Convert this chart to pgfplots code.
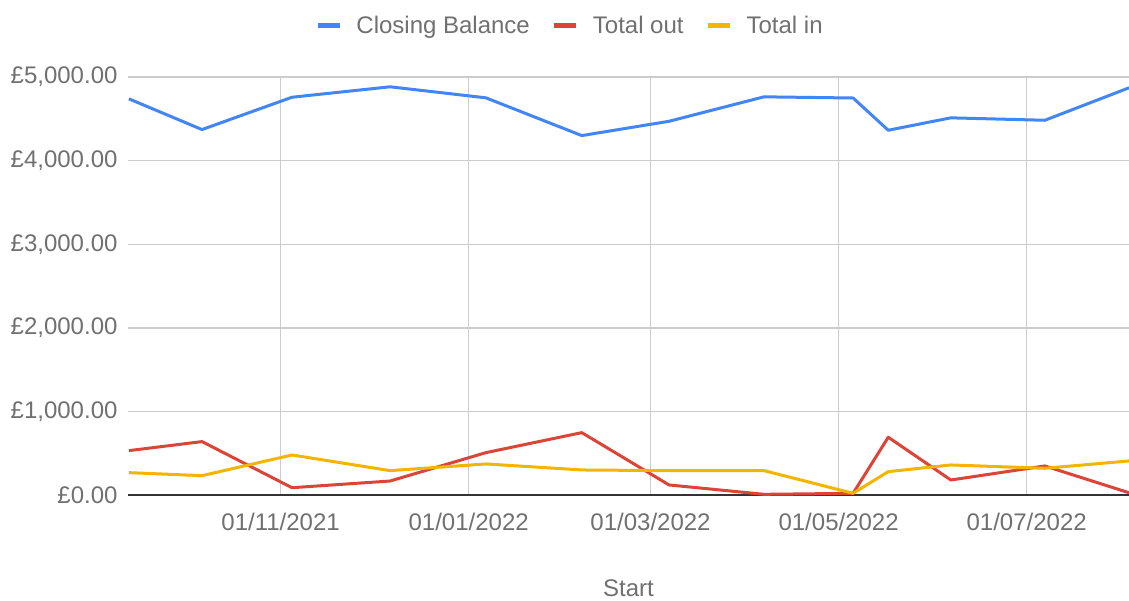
\documentclass[border=0pt]{standalone}
\usepackage{fontspec}
\setmainfont{Liberation Sans}
\usepackage{pgfplots}
\pgfplotsset{compat=1.18}
\definecolor{cbal}{HTML}{4285F4}
\definecolor{cout}{HTML}{DB4437}
\definecolor{cin}{HTML}{F4B400}
\definecolor{txt}{HTML}{707070}
\definecolor{grd}{HTML}{CCCCCC}
\definecolor{axl}{HTML}{333333}
\begin{document}
\begin{tikzpicture}[x=1pt,y=1pt]
\useasboundingbox (-128,-105.5) rectangle (1001,495.5);
\begin{axis}[at={(0,0)}, anchor=south west, scale only axis,
  width=1001pt, height=418.5pt,
  xmin=-49.5, xmax=275.2, ymin=0, ymax=5000,
  axis x line*=bottom, axis y line*=left,
  x axis line style={draw=axl, line width=2pt, -},
  y axis line style={draw=none},
  major tick length=0pt,
  xtick={0,61,120,181,242},
  xticklabels={01/11/2021,01/01/2022,01/03/2022,01/05/2022,01/07/2022},
  ytick={0,1000,2000,3000,4000,5000},
  yticklabels={£0.00,{£1,000.00},{£2,000.00},{£3,000.00},{£4,000.00},{£5,000.00}},
  grid=major, major grid style={draw=grd, line width=1.3pt},
  tick label style={font=\fontsize{24}{28}\selectfont, text=txt},
  yticklabel style={xshift=-7pt},
  xticklabel style={yshift=-14pt},
  xlabel={Start},
  xlabel style={font=\fontsize{24}{28}\selectfont, text=txt, at={(axis description cs:0.5,-0.2222)}, anchor=center},
  legend style={at={(axis description cs:0.4416,1.122)}, anchor=center, draw=none, fill=none,
    legend columns=-1, font=\fontsize{24}{28}\selectfont, text=txt,
    /tikz/every odd column/.append style={column sep=12pt},
    /tikz/every even column/.append style={column sep=20pt}},
  legend image code/.code={\draw[#1, line width=5pt] (0pt,0pt) -- (22pt,0pt);},
  every axis plot/.append style={line width=3pt, line join=round},
]
\addplot[cbal] coordinates {(-49.2,4739) (-25.5,4372) (3.7,4758) (35.5,4883) (66.6,4751) (97.7,4300) (126.0,4471) (156.8,4763) (185.7,4749) (197.1,4364) (217.4,4512) (247.9,4483) (275.2,4871)};
\addlegendentry{Closing Balance}
\addplot[cout] coordinates {(-49.2,536) (-25.5,644) (3.7,93) (35.5,173) (66.6,512) (97.7,751) (126.0,126) (156.8,14) (185.7,26) (197.1,696) (217.4,185) (247.9,353) (275.2,33)};
\addlegendentry{Total out}
\addplot[cin] coordinates {(-49.2,273) (-25.5,237) (3.7,484) (35.5,297) (66.6,377) (97.7,305) (126.0,297) (156.8,297) (185.7,26) (197.1,285) (217.4,365) (247.9,325) (275.2,413)};
\addlegendentry{Total in}
\end{axis}
\end{tikzpicture}
\end{document}
